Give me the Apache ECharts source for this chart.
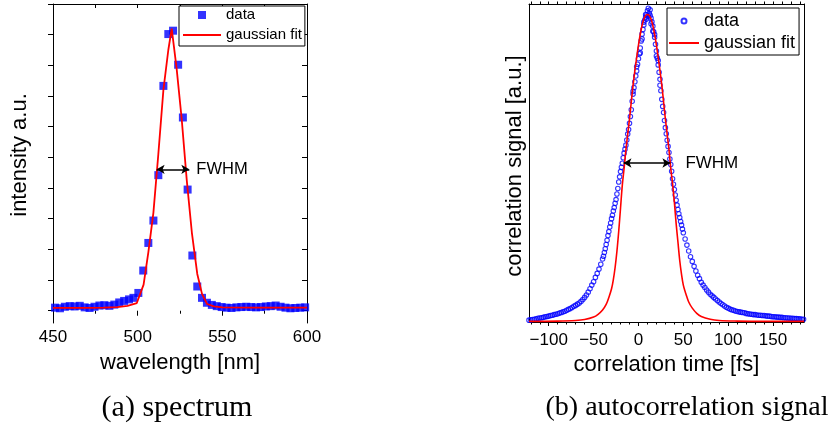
<!DOCTYPE html>
<html><head><meta charset="utf-8">
<script src="https://cdn.jsdelivr.net/npm/echarts@6/dist/echarts.min.js"></script>
<style>html,body{margin:0;padding:0;background:#fff}#c{width:829px;height:432px}</style>
</head><body><div id="c"></div>
<script>
// ---- (a) spectrum ----
const specWavelength = [451.2,454.1,457.0,459.9,462.8,465.8,468.7,471.6,474.5,477.4,480.3,483.3,486.2,489.1,492.0,494.9,497.5,500.4,503.3,506.3,509.3,512.2,515.2,518.1,520.9,523.9,526.7,529.5,532.3,535.2,538.0,540.9,543.8,546.7,549.6,552.5,555.4,558.3,561.2,564.1,567.0,569.9,572.8,575.7,578.6,581.5,584.4,587.3,590.2,593.1,596.0,598.9];
const specIntensity = [0.10,0.08,0.13,0.15,0.14,0.16,0.11,0.09,0.13,0.17,0.18,0.16,0.20,0.27,0.32,0.37,0.42,0.58,1.31,2.21,2.94,4.42,7.33,9.02,9.13,8.02,6.30,3.95,1.80,0.79,0.42,0.26,0.19,0.15,0.12,0.10,0.09,0.11,0.12,0.13,0.12,0.11,0.12,0.14,0.15,0.17,0.13,0.10,0.08,0.09,0.10,0.11];
const specFitWavelength = [450,470,480,488,494,499.5,503.5,506.3,509.3,512.2,515.2,518.1,520.1,523.0,526.0,529.0,532.0,535.2,538.0,541.0,545,550,570,600];
const specFitIntensity = [0.09,0.09,0.10,0.12,0.16,0.25,0.85,1.9,3.2,5.1,7.2,8.5,9.2,7.9,6.25,4.25,2.55,1.2,0.55,0.22,0.14,0.11,0.10,0.10];
const specFwhm = [511.2, 530.5];
const specFwhmLevel = 4.61;
const specXTicksTop = 25;
const specYTicks = [0,1,2,3,4,5,6,7,8,9,10];

// ---- (b) autocorrelation ----
const acTime = [-122,-120,-118,-116,-114,-112,-110,-108,-106,-104,-102,-100,-98,-96,-94,-92,-90,-88,-86,-84,-82,-80,-78,-76,-74,-72,-70,-68,-66,-64,-62,-60,-58,-56,-54,-52,-50,-48,-46,-44,-42,
-40,-39,-38,-37,-36,-35,-34,-33,-32,-31,-30,-29,-28,-27,-26,-25,-24,-23,-22,-21,-20,-19,-18,-17,-16,-15,-14,-13,-12,-11,-10,-9,-8,-7,-6,-5,-4,-3,-2,-1,0,1,2,3,4,5,6,7,8,9,10,11,12,13,14,15,16,17,18,19,20,21,22,23,24,25,26,27,28,29,30,31,32,33,34,35,36,37,38,39,40,41,42,43,44,45,46,47,48,49,50,
52,54,56,58,60,62,64,66,68,70,72,74,76,78,80,82,84,86,88,90,92,94,96,98,100,102,104,106,108,110,112,114,116,118,120,122,124,126,128,130,132,134,136,138,140,142,144,146,148,150,152,154,156,158,160,162,164,166,168,170,172,174,176,178,180,182,184,
-6,-2,2,4,6,8,9,11,13,14,16,18,20,22,24];
const acSignal = [0.006,0.007,0.008,0.009,0.010,0.012,0.013,0.014,0.015,0.017,0.018,0.019,0.021,0.022,0.024,0.025,0.027,0.029,0.031,0.033,0.035,0.038,0.041,0.044,0.047,0.051,0.054,0.058,0.062,0.067,0.073,0.080,0.088,0.097,0.108,0.120,0.131,0.145,0.158,0.172,0.188,
0.205,0.214,0.226,0.238,0.252,0.266,0.281,0.294,0.309,0.322,0.336,0.347,0.361,0.372,0.386,0.398,0.416,0.434,0.455,0.472,0.489,0.503,0.516,0.534,0.549,0.562,0.575,0.592,0.611,0.626,0.646,0.668,0.690,0.718,0.741,0.762,0.781,0.800,0.816,0.838,0.856,0.872,0.891,0.914,0.936,0.951,0.966,0.982,0.991,0.998,1.012,1.020,1.004,0.997,0.988,0.976,0.962,0.944,0.926,0.903,0.881,0.858,0.836,0.812,0.789,0.752,0.724,0.701,0.681,0.655,0.632,0.612,0.591,0.571,0.551,0.530,0.512,0.490,0.466,0.448,0.431,0.413,0.396,0.380,0.366,0.352,0.340,0.327,0.315,0.302,0.290,
0.270,0.250,0.231,0.212,0.197,0.181,0.166,0.152,0.141,0.129,0.120,0.112,0.104,0.097,0.090,0.085,0.080,0.075,0.070,0.065,0.060,0.056,0.052,0.048,0.045,0.042,0.040,0.038,0.036,0.034,0.033,0.032,0.031,0.030,0.028,0.027,0.026,0.025,0.024,0.024,0.023,0.022,0.022,0.021,0.021,0.020,0.019,0.019,0.018,0.017,0.017,0.016,0.016,0.015,0.015,0.014,0.014,0.013,0.013,0.012,0.012,0.011,0.011,0.010,0.010,0.009,0.009,
0.75,0.83,0.875,0.92,0.975,1.0,0.985,0.995,1.015,0.97,0.945,0.935,0.865,0.85,0.77];
const acFitTime = [-122,-90,-70,-60,-50,-45,-40,-36,-33,-30,-28,-26,-24,-22,-20,-18,-16,-14,-10,-6,-2,2,6,10,14,18,22,26,30,34,36,38,40,42,44,46,48,50,53,56,60,65,70,80,90,110,140,184.5];
const acFitSignal = [0.002,0.003,0.005,0.008,0.016,0.025,0.039,0.057,0.08,0.108,0.138,0.178,0.23,0.295,0.37,0.445,0.5,0.56,0.66,0.77,0.86,0.935,0.985,1.0,0.985,0.935,0.86,0.77,0.66,0.56,0.5,0.45,0.39,0.32,0.26,0.2,0.155,0.12,0.09,0.065,0.045,0.028,0.018,0.009,0.005,0.003,0.002,0.002];
const acFwhm = [-16.7, 35.6];
const acFwhmLevel = 0.517;
const acMajorTicks = [-100,-50,0,50,100,150];
const acMinorTicks = [-120,-110,-100,-90,-80,-70,-60,-50,-40,-30,-20,-10,0,10,20,30,40,50,60,70,80,90,100,110,120,130,140,150,160,170,180];

const legendLabels = {'spec-data':'data','spec-fit':'gaussian fit','ac-data':'data','ac-fit':'gaussian fit'};

const SANS = '"Liberation Sans", Arial, Helvetica, sans-serif';
const BLACK = '#000';
const zip = (xs, ys) => xs.map((x, i) => [x, ys[i]]);
const frameAxis = (extra) => Object.assign({
  type: 'value', axisLine: {show: true, onZero: false, lineStyle: {color: BLACK, width: 1}},
  axisTick: {show: false}, axisLabel: {show: false}, splitLine: {show: false}
}, extra);
const hiddenSymbol = {color: 'rgba(0,0,0,0)', borderColor: 'rgba(0,0,0,0)', borderWidth: 0, opacity: 0};

const chart = echarts.init(document.getElementById('c'), null, {renderer: 'canvas'});
chart.setOption({
  animation: false,
  backgroundColor: '#fff',
  textStyle: {fontFamily: SANS},
  grid: [
    {left: 53, top: 4, width: 254, height: 319},
    {left: 529, top: 4, width: 275, height: 318}
  ],
  xAxis: [
    {gridIndex: 0, type: 'value', min: 450, max: 600, interval: 50, position: 'bottom', offset: -5,
     axisLine: {show: false},
     axisTick: {show: true, inside: false, length: 5, lineStyle: {color: BLACK}},
     minorTick: {show: true, splitNumber: 2, length: 3, lineStyle: {color: BLACK}},
     axisLabel: {margin: 11, fontSize: 17, color: BLACK, fontFamily: SANS},
     splitLine: {show: false},
     name: 'wavelength [nm]', nameLocation: 'middle', nameGap: 34,
     nameTextStyle: {fontSize: 22, color: BLACK, fontFamily: SANS}},
    frameAxis({gridIndex: 0, min: 450, max: 600, interval: specXTicksTop, position: 'top',
     axisTick: {show: true, inside: true, length: 4, lineStyle: {color: BLACK}}}),
    {gridIndex: 1, type: 'value', min: -122, max: 184.5, position: 'bottom',
     axisLine: {show: true, onZero: false, lineStyle: {color: BLACK, width: 1}},
     axisTick: {show: true, inside: false, length: 4, customValues: acMajorTicks, lineStyle: {color: BLACK}},
     axisLabel: {show: true, customValues: acMajorTicks, margin: 10, fontSize: 17, color: BLACK, fontFamily: SANS,
       formatter: v => String(v).replace('-', '\u2212')},
     splitLine: {show: false},
     name: 'correlation time [fs]', nameLocation: 'middle', nameGap: 30,
     nameTextStyle: {fontSize: 22, color: BLACK, fontFamily: SANS}},
    frameAxis({gridIndex: 1, min: -122, max: 184.5, position: 'bottom', axisLine: {show: false},
     axisTick: {show: true, inside: false, length: 2.5, customValues: acMinorTicks, lineStyle: {color: BLACK}}}),
    frameAxis({gridIndex: 1, min: -122, max: 184.5, position: 'top',
     axisTick: {show: true, inside: false, length: 2.5, customValues: acMinorTicks, lineStyle: {color: BLACK}}})
  ],
  yAxis: [
    frameAxis({gridIndex: 0, min: -0.4, max: 10, position: 'left',
     axisTick: {show: true, inside: false, length: 5, customValues: specYTicks, lineStyle: {color: BLACK}}}),
    frameAxis({gridIndex: 0, min: -0.4, max: 10, position: 'right',
     axisTick: {show: true, inside: true, length: 5, customValues: specYTicks, lineStyle: {color: BLACK}}}),
    frameAxis({gridIndex: 1, min: 0, max: 1.034, position: 'left'}),
    frameAxis({gridIndex: 1, min: 0, max: 1.034, position: 'right'})
  ],
  legend: [
    {left: 179, top: 6, orient: 'vertical', align: 'left', symbolKeepAspect: true,
     data: [{name: 'spec-data', icon: 'path://M0,0L10,0L10,10L0,10Z'}, {name: 'spec-fit', itemStyle: hiddenSymbol}],
     itemWidth: 38, itemHeight: 8, itemGap: 4, padding: [1, 3, 3, 3],
     borderColor: BLACK, borderWidth: 1, borderRadius: 0, backgroundColor: '#fff',
     formatter: n => legendLabels[n], selectedMode: false,
     textStyle: {fontSize: 15, lineHeight: 16, color: BLACK, fontFamily: SANS}},
    {left: 667, top: 8, orient: 'vertical', align: 'left', symbolKeepAspect: true,
     data: [{name: 'ac-data'}, {name: 'ac-fit', itemStyle: hiddenSymbol}],
     itemWidth: 30, itemHeight: 5, itemGap: 4, padding: [4, 4, 3, 1],
     borderColor: BLACK, borderWidth: 1, borderRadius: 0, backgroundColor: '#fff',
     formatter: n => legendLabels[n], selectedMode: false,
     textStyle: {fontSize: 18, lineHeight: 18, color: BLACK, fontFamily: SANS}}
  ],
  graphic: [
    {type: 'text', x: 20, y: 155, rotation: Math.PI / 2,
     style: {text: 'intensity a.u.', font: '22px "Liberation Sans", Arial, sans-serif', fill: BLACK, align: 'center', verticalAlign: 'middle'}},
    {type: 'text', x: 515, y: 166, rotation: Math.PI / 2,
     style: {text: 'correlation signal [a.u.]', font: '22px "Liberation Sans", Arial, sans-serif', fill: BLACK, align: 'center', verticalAlign: 'middle'}},
    {type: 'text', x: 177, y: 408,
     style: {text: '(a) spectrum', font: '30px "Liberation Serif", "Times New Roman", serif', fill: BLACK, align: 'center', verticalAlign: 'middle'}},
    {type: 'text', x: 687, y: 408,
     style: {text: '(b) autocorrelation signal', font: '28px "Liberation Serif", "Times New Roman", serif', fill: BLACK, align: 'center', verticalAlign: 'middle'}}
  ],
  series: [
    {name: 'spec-data', type: 'scatter', xAxisIndex: 0, yAxisIndex: 0,
     data: zip(specWavelength, specIntensity), symbol: 'rect', symbolSize: 8,
     itemStyle: {color: '#0000ff'}, z: 2, silent: true},
    {name: 'spec-fit', type: 'line', xAxisIndex: 0, yAxisIndex: 0,
     data: zip(specFitWavelength, specFitIntensity), symbol: 'none', smooth: false,
     lineStyle: {color: '#ff0000', width: 1.8}, itemStyle: {color: '#ff0000'}, z: 3, silent: true,
     markLine: {silent: true, symbol: ['arrow', 'arrow'], symbolSize: [7, 8], precision: 4,
       lineStyle: {color: BLACK, width: 1.5, type: 'solid'},
       label: {show: true, position: 'end', formatter: 'FWHM', distance: 7, fontSize: 16.5, color: BLACK, fontFamily: SANS},
       data: [[{coord: [specFwhm[0], specFwhmLevel]}, {coord: [specFwhm[1], specFwhmLevel]}]]}},
    {name: 'ac-data', type: 'scatter', xAxisIndex: 2, yAxisIndex: 2,
     data: zip(acTime, acSignal), symbol: 'circle', symbolSize: 4.5,
     itemStyle: {color: 'rgba(0,0,255,0)', borderColor: '#0000ff', borderWidth: 1.1}, z: 2, silent: true},
    {name: 'ac-fit', type: 'line', xAxisIndex: 2, yAxisIndex: 2,
     data: zip(acFitTime, acFitSignal), symbol: 'none', smooth: 0.35,
     lineStyle: {color: '#ff0000', width: 1.6}, itemStyle: {color: '#ff0000'}, z: 3, silent: true,
     markLine: {silent: true, symbol: ['arrow', 'arrow'], symbolSize: [7, 8], precision: 4,
       lineStyle: {color: BLACK, width: 1.5, type: 'solid'},
       label: {show: true, position: 'end', formatter: 'FWHM', distance: 15, fontSize: 17, color: BLACK, fontFamily: SANS},
       data: [[{coord: [acFwhm[0], acFwhmLevel]}, {coord: [acFwhm[1], acFwhmLevel]}]]}}
  ]
});
</script></body></html>
